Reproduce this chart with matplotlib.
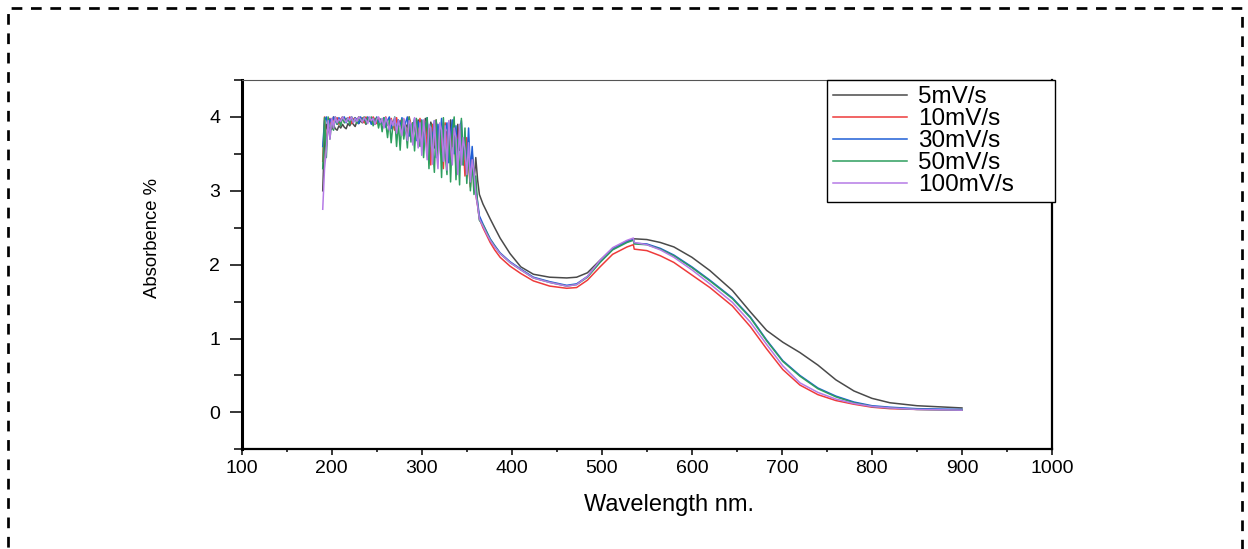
import matplotlib
matplotlib.use("Agg")
import matplotlib.pyplot as plt
from matplotlib.patches import Rectangle
from matplotlib.ticker import MultipleLocator

plt.rcParams['font.family'] = ['Liberation Sans', 'DejaVu Sans']

# wavelengths (nm): noisy UV part every 2 nm, then the smooth part
wl_noisy = list(range(190, 366, 2))
wl_smooth = [368, 372, 376, 381, 387, 398, 410, 424, 442, 461, 472, 484, 498,
             512, 528, 535, 536, 550, 565, 580, 600, 620, 645, 665, 683, 701,
             720, 740, 760, 780, 800, 820, 850, 900]

labels = ["5mV/s", "10mV/s", "30mV/s", "50mV/s", "100mV/s"]
colors = ["#4a4a4a", "#ee3b3b", "#1f5fd6", "#2e9e5e", "#b57be6"]

noisy_5 = [3.00, 3.72, 3.90, 3.80, 3.86, 3.83, 3.89, 3.84, 3.82, 3.88, 3.85,
           3.90, 3.86, 3.84, 3.91, 3.88, 3.93, 3.90, 3.87, 3.94, 3.91, 3.95,
           3.92, 3.96, 3.90, 3.94, 3.97, 3.92, 3.95, 3.90, 3.96, 3.93, 3.91,
           3.95, 3.88, 3.93, 3.90, 3.86, 3.94, 3.89, 3.97, 3.84, 3.92, 3.87,
           3.95, 3.82, 3.90, 3.86, 3.97, 3.78, 3.92, 3.85, 3.74, 3.96, 3.80,
           3.90, 3.70, 3.98, 3.76, 3.62, 3.93, 3.85, 3.58, 3.95, 3.70, 3.88,
           3.52, 3.92, 3.65, 3.80, 3.45, 3.96, 3.60, 3.85, 3.40, 3.90, 3.55,
           3.82, 3.35, 3.70, 3.48, 3.62, 3.25, 3.52, 3.10, 3.45, 3.15, 2.95]
noisy_10 = [3.40, 4.00, 3.60, 3.92, 3.98, 3.85, 4.00, 3.94, 3.99, 3.90, 3.97,
            4.00, 3.93, 3.98, 3.95, 4.00, 3.91, 3.97, 3.99, 3.94, 4.00, 3.96,
            3.99, 3.92, 4.00, 3.95, 3.98, 3.93, 4.00, 3.96, 3.91, 3.99, 3.94,
            3.97, 3.88, 4.00, 3.92, 3.85, 3.98, 3.90, 3.82, 3.99, 3.87, 3.95,
            3.80, 3.97, 3.86, 3.75, 4.00, 3.90, 3.72, 3.95, 3.83, 3.66, 3.98,
            3.78, 3.55, 3.94, 3.48, 3.88, 3.35, 3.90, 3.62, 3.96, 3.42, 3.85,
            3.70, 3.30, 3.92, 3.55, 3.82, 3.38, 3.75, 3.95, 3.28, 3.68, 3.85,
            3.40, 3.62, 3.20, 3.72, 3.35, 3.05, 3.48, 3.12, 2.95, 2.80, 2.62]
noisy_30 = [3.60, 3.95, 4.00, 3.85, 3.97, 3.92, 4.00, 3.95, 3.90, 3.99, 3.94,
            3.97, 4.00, 3.92, 3.98, 3.95, 4.00, 3.93, 3.99, 3.96, 3.91, 4.00,
            3.95, 3.99, 3.93, 4.00, 3.96, 3.90, 3.98, 3.94, 4.00, 3.92, 3.97,
            3.90, 3.99, 3.86, 3.95, 4.00, 3.84, 3.93, 3.97, 3.80, 3.96, 3.88,
            3.99, 3.78, 3.92, 4.00, 3.74, 3.90, 3.85, 3.98, 3.68, 3.94, 3.82,
            3.96, 3.60, 3.88, 3.99, 3.52, 3.85, 3.70, 3.95, 3.45, 3.90, 3.65,
            3.98, 3.40, 3.82, 3.92, 3.38, 3.75, 3.96, 3.50, 3.88, 3.32, 3.80,
            3.95, 3.45, 3.70, 3.30, 3.85, 3.25, 3.60, 3.15, 3.02, 2.85, 2.66]
noisy_50 = [3.30, 3.99, 3.45, 4.00, 3.70, 3.95, 3.82, 4.00, 3.90, 3.96, 3.88,
            4.00, 3.92, 3.97, 3.99, 3.90, 4.00, 3.94, 3.98, 3.91, 4.00, 3.95,
            3.97, 4.00, 3.91, 3.99, 3.94, 4.00, 3.88, 3.96, 3.99, 3.85, 3.97,
            3.80, 3.99, 3.92, 3.72, 3.96, 3.65, 3.90, 4.00, 3.60, 3.93, 3.55,
            3.97, 3.70, 3.88, 3.58, 4.00, 3.66, 3.92, 3.54, 3.98, 3.75, 3.60,
            3.95, 3.45, 3.85, 3.99, 3.30, 3.90, 3.62, 3.25, 3.96, 3.40, 3.88,
            3.18, 3.99, 3.50, 3.22, 3.92, 3.12, 3.80, 4.00, 3.15, 3.70, 3.08,
            3.98, 3.35, 3.85, 3.10, 3.55, 3.00, 3.40, 2.95, 3.20, 2.82, 2.60]
noisy_100 = [2.75, 3.30, 3.55, 3.95, 3.70, 3.98, 3.85, 4.00, 3.92, 3.97, 3.94,
             4.00, 3.96, 3.93, 3.99, 3.95, 4.00, 3.92, 3.98, 3.94, 4.00, 3.97,
             3.93, 3.99, 3.96, 3.91, 4.00, 3.95, 3.98, 3.90, 3.97, 4.00, 3.92,
             3.98, 3.85, 3.99, 3.92, 3.82, 3.96, 3.88, 3.99, 3.78, 3.95, 3.86,
             3.75, 3.98, 3.84, 3.68, 3.95, 3.90, 3.62, 3.99, 3.80, 3.58, 3.92,
             3.48, 3.96, 3.70, 3.42, 3.90, 3.85, 3.36, 3.95, 3.55, 3.30, 3.92,
             3.82, 3.40, 3.88, 3.28, 3.95, 3.62, 3.35, 3.85, 3.72, 3.22, 3.90,
             3.35, 3.72, 3.55, 3.22, 3.65, 3.12, 3.42, 3.25, 2.95, 2.80, 2.62]

smooth_5 = [2.82, 2.72, 2.62, 2.50, 2.36, 2.15, 1.97, 1.87, 1.83, 1.82, 1.83,
            1.89, 2.06, 2.22, 2.32, 2.34, 2.35, 2.34, 2.30, 2.24, 2.10, 1.92,
            1.65, 1.36, 1.11, 0.95, 0.81, 0.64, 0.44, 0.29, 0.19, 0.13, 0.09,
            0.06]
smooth_10 = [2.50, 2.40, 2.30, 2.20, 2.10, 1.98, 1.88, 1.78, 1.71, 1.68, 1.69,
             1.79, 1.97, 2.14, 2.24, 2.27, 2.21, 2.19, 2.12, 2.03, 1.86, 1.69,
             1.44, 1.16, 0.86, 0.58, 0.37, 0.24, 0.16, 0.11, 0.07, 0.05, 0.04,
             0.03]
smooth_30 = [2.55, 2.45, 2.35, 2.26, 2.16, 2.04, 1.94, 1.83, 1.77, 1.72, 1.74,
             1.84, 2.04, 2.21, 2.31, 2.34, 2.29, 2.28, 2.22, 2.13, 1.97, 1.79,
             1.55, 1.29, 0.98, 0.70, 0.50, 0.33, 0.22, 0.14, 0.09, 0.07, 0.05,
             0.04]
smooth_50 = [2.54, 2.44, 2.34, 2.25, 2.15, 2.03, 1.93, 1.82, 1.76, 1.71, 1.73,
             1.83, 2.03, 2.20, 2.30, 2.33, 2.28, 2.27, 2.21, 2.12, 1.96, 1.78,
             1.54, 1.28, 0.97, 0.69, 0.49, 0.32, 0.21, 0.13, 0.08, 0.06, 0.04,
             0.03]
smooth_100 = [2.52, 2.42, 2.33, 2.24, 2.15, 2.03, 1.93, 1.82, 1.76, 1.71, 1.73,
              1.84, 2.06, 2.23, 2.33, 2.36, 2.30, 2.27, 2.20, 2.10, 1.93, 1.74,
              1.49, 1.22, 0.92, 0.63, 0.40, 0.27, 0.18, 0.12, 0.08, 0.06, 0.04,
              0.03]

wl = wl_noisy + wl_smooth
series = [noisy_5 + smooth_5, noisy_10 + smooth_10, noisy_30 + smooth_30,
          noisy_50 + smooth_50, noisy_100 + smooth_100]

fig = plt.figure(figsize=(12.48, 5.49), dpi=100)
ax = fig.add_axes([0.19367, 0.18160, 0.64928, 0.67268])

for y, c, lab in zip(series, colors, labels):
    ax.plot(wl, y, color=c, lw=1.1, label=lab)

ax.set_xlim(100, 1000)
ax.set_ylim(-0.5, 4.5)
ax.xaxis.set_major_locator(MultipleLocator(100))
ax.xaxis.set_minor_locator(MultipleLocator(50))
ax.yaxis.set_major_locator(MultipleLocator(1))
ax.yaxis.set_minor_locator(MultipleLocator(0.5))

ax.tick_params(axis='y', which='major', length=8.5, width=1.1, pad=7, labelsize=14)
ax.tick_params(axis='y', which='minor', length=6, width=1.1)
ax.tick_params(axis='x', which='major', length=4.5, width=1.1, pad=3.0, labelsize=14)
ax.tick_params(axis='x', which='minor', length=2.5, width=1.1)

ax.spines['left'].set_linewidth(2.2)
ax.spines['bottom'].set_linewidth(1.6)
ax.spines['right'].set_linewidth(1.6)
ax.spines['top'].set_linewidth(0.8)
ax.spines['top'].set_color('#555555')

ax.set_xlabel("Wavelength nm.", fontsize=17)
ax.xaxis.set_label_coords(0.5273, -0.122)
ax.set_ylabel("Absorbence %", fontsize=13.3)
ax.yaxis.set_label_coords(-0.0996, 0.5735)

leg = ax.legend(loc='upper left', bbox_to_anchor=(0.7223, 0.675, 0.2814, 0.325),
                mode='expand', borderaxespad=0, fontsize=17.5, labelspacing=0,
                handlelength=3.05, handletextpad=0.45, borderpad=0.25,
                fancybox=False, framealpha=1, edgecolor='black')
leg.get_frame().set_linewidth(1.0)

# dashed frame around the whole figure
border = Rectangle((8 / 1248, -0.05), 1234 / 1248, 1.05 - 8 / 549,
                   transform=fig.transFigure, fill=False, edgecolor='black',
                   lw=1.95, linestyle=(0, (3.95, 3.2)), clip_on=False)
fig.add_artist(border)

fig.savefig("out.png", dpi=100)
